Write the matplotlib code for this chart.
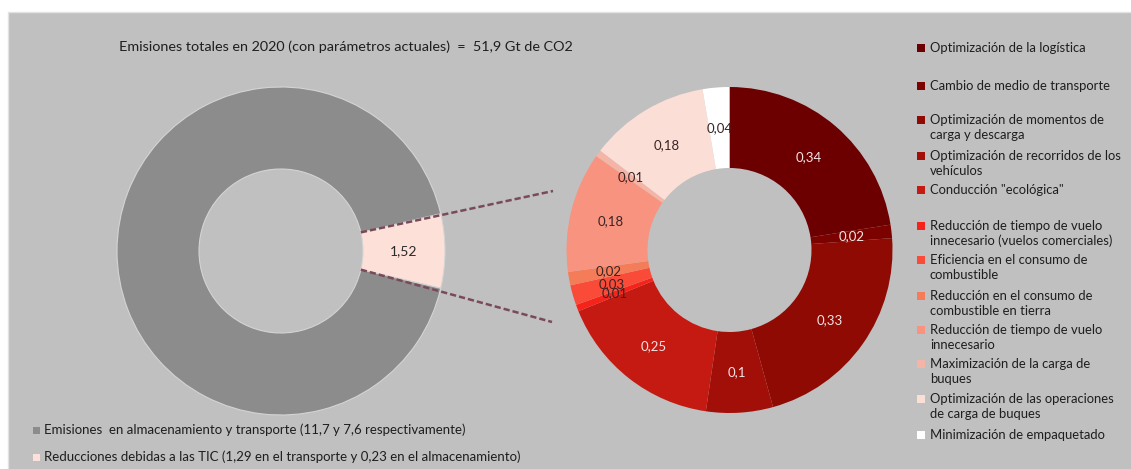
import matplotlib
matplotlib.use("Agg")
import matplotlib.pyplot as plt
from matplotlib.patches import Rectangle
import numpy as np

# ---------------- data ----------------
title = "Emisiones totales en 2020 (con parámetros actuales)  =  51,9 Gt de CO2"

left_labels = ["Emisiones  en almacenamiento y transporte (11,7 y 7,6 respectivamente)",
               "Reducciones debidas a las TIC (1,29 en el transporte y 0,23 en el almacenamiento)"]
left_values = [19.3, 1.52]
left_value_text = "1,52"

categories = [
    "Optimización de la logística",
    "Cambio de medio de transporte",
    "Optimización de momentos de\ncarga y descarga",
    "Optimización de recorridos de los\nvehículos",
    "Conducción \"ecológica\"",
    "Reducción de tiempo de vuelo\ninnecesario (vuelos comerciales)",
    "Eficiencia en el consumo de\ncombustible",
    "Reducción en el consumo de\ncombustible en tierra",
    "Reducción de tiempo de vuelo\ninnecesario",
    "Maximización de la carga de\nbuques",
    "Optimización de las operaciones\nde carga de buques",
    "Minimización de empaquetado",
]
values = [0.34, 0.02, 0.33, 0.1, 0.25, 0.01, 0.03, 0.02, 0.18, 0.01, 0.18, 0.04]
value_labels = ["0,34", "0,02", "0,33", "0,1", "0,25", "0,01", "0,03", "0,02", "0,18", "0,01", "0,18", "0,04"]

colors = ["#6c0000", "#7c0200", "#8e0a02", "#a20e08", "#c41a12", "#f5231a", "#fa4a38",
          "#f47c58", "#f8937f", "#f4b4a6", "#fbdfd7", "#ffffff"]
label_colors = ["#f2e4e4"] * 5 + ["#3a2424"] * 7
grey = "#8c8c8c"
pink = "#fde1d9"
panel = "#c0c0c0"

# ---------------- figure ----------------
W, H = 1131, 469
fig = plt.figure(figsize=(W / 100, H / 100), dpi=100)
fig.patch.set_facecolor("white")
ax = fig.add_axes([0, 0, 1, 1])
ax.set_xlim(0, W)
ax.set_ylim(0, H)
ax.axis("off")
plt.rcParams['font.family'] = ['Lato', 'DejaVu Sans']

def Y(y):
    return H - y

ax.add_patch(Rectangle((8, -5), W, Y(12) + 5, facecolor=panel, edgecolor="#e2e2e2", lw=1.0, zorder=0))

# ---------------- left donut ----------------
lc = (281, Y(251))
R, r = 164, 82
pink_ang = left_values[1] / sum(left_values) * 360
wl, _ = ax.pie([left_values[1], left_values[0]], colors=[pink, grey], center=lc, radius=R,
               startangle=-pink_ang / 2, counterclock=True,
               wedgeprops=dict(width=R - r, edgecolor="#d4d4d4", linewidth=0.8))
ax.text(lc[0] + (R + r) / 2, lc[1], left_value_text, ha="center", va="center",
        fontsize=10, color="#2a2a2a")

# ---------------- right donut ----------------
rc = (729.5, Y(250))
R2, r2 = 163, 82
wedges, _ = ax.pie(values, colors=colors, center=rc, radius=R2, startangle=90,
                   counterclock=False, wedgeprops=dict(width=R2 - r2, linewidth=0))
for w, lab, c in zip(wedges, value_labels, label_colors):
    th = np.deg2rad((w.theta1 + w.theta2) / 2)
    rm = (R2 + r2) / 2
    ax.text(rc[0] + rm * np.cos(th), rc[1] + rm * np.sin(th), lab, ha="center", va="center",
            fontsize=9.5, color=c)

# connector dashed lines
for sgn, end in [(1, (553, Y(191))), (-1, (552, Y(322)))]:
    a = np.deg2rad(sgn * pink_ang / 2)
    sx, sy = lc[0] + r * np.cos(a), lc[1] + r * np.sin(a)
    ax.plot([sx, end[0]], [sy, end[1]], ls=(0, (2.5, 1.2)), color="#7a4a58", lw=1.8, zorder=5)

ax.set_xlim(0, W)
ax.set_ylim(0, H)
ax.set_aspect("auto")

# ---------------- title ----------------
ax.text(119, Y(47), title, ha="left", va="center", fontsize=10.4, color="#1e1e1e")

# ---------------- right legend ----------------
leg_y = [48, 86, 120, 156, 190, 226, 260, 296, 330, 364, 399, 435]
for yy, cat, c in zip(leg_y, categories, colors):
    ax.add_patch(Rectangle((917, Y(yy) - 4), 8, 8, facecolor=c, edgecolor="none"))
    ax.text(930, Y(yy) + 6.5, cat, ha="left", va="top", fontsize=9.4, color="#1e1e1e",
            linespacing=1.3)

# ---------------- bottom legend ----------------
for yy, lab, c in zip([430, 457], left_labels, [grey, pink]):
    ax.add_patch(Rectangle((33, Y(yy) - 3.5), 7, 7, facecolor=c, edgecolor="none"))
    ax.text(44, Y(yy), lab, ha="left", va="center", fontsize=9.5, color="#1e1e1e")

fig.savefig("out.png", dpi=100, facecolor="white")
